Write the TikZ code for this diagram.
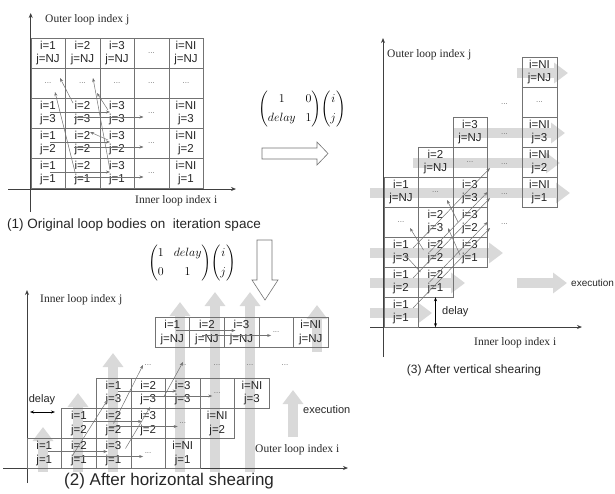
\documentclass[tikz,border=0pt]{standalone}
\usepackage{amsmath}
\usepackage{fontspec}
\setmainfont{Liberation Sans}
\newfontfamily\serifaxis{Liberation Serif}
\usetikzlibrary{arrows.meta}

\begin{document}
\begin{tikzpicture}[x=1pt, y=-1pt, >=Stealth,
    cell/.style={draw=black!55, minimum width=34.5pt, minimum height=30pt, inner sep=0pt, align=center, text=black!85, font=\fontsize{11.5}{13.5}\selectfont},
    dotcell/.style={cell, text=black!55, font=\fontsize{8}{9}\selectfont},
    dots/.style={inner sep=0pt, text=black!55, font=\fontsize{8}{9}\selectfont},
    axis/.style={-{Stealth[length=5pt, width=4pt]}, draw=black!75, line width=0.9pt},
    axislabel/.style={anchor=west, inner sep=0pt, text=black!85, font=\serifaxis\fontsize{11.5}{13}\selectfont},
    lab/.style={inner sep=0pt, text=black!85, font=\fontsize{11}{13}\selectfont},
    caption/.style={inner sep=0pt, text=black!85},
    flow/.style={-{Stealth[length=4pt, width=3pt]}, draw=black!55, line width=0.5pt},
    exec/.style={draw=black!15, line width=10pt, -{Triangle[length=14pt, width=20pt]}},
    hollow/.style={draw=black!55, fill=white, line width=0.6pt},
    delayarrow/.style={{Stealth[length=4pt, width=3pt]}-{Stealth[length=4pt, width=3pt]}, line width=0.7pt}
  ]
  \useasboundingbox (0,0) rectangle (615,493);

  % (1) original iteration space
  \draw[axis] (8,189) -- (236,189);
  \draw[axis] (30.7,212) -- (30.7,13);
  \foreach \ii/\x in {1/48,2/82.5,3/117,NI/186}
    \foreach \jj/\y in {NJ/53,3/113,2/143,1/173}
      \node[cell] (o-\ii-\jj) at (\x,\y) {i=\ii\\j=\jj};
  \foreach \ii/\x in {1/48,2/82.5,3/117,d/151.5,NI/186}
    \node[dotcell] (o-\ii-d) at (\x,83) {...};
  \foreach \jj/\y in {NJ/53,3/113,2/143,1/173}
    \node[dotcell] (o-d-\jj) at (151.5,\y) {...};
  \foreach \jj in {3,2,1} {
    \draw[flow] ([shift={(2,-1)}]o-1-\jj.center) -- ([shift={(-7,-1)}]o-3-\jj.center);
    \draw[flow] ([shift={(26,4)}]o-1-\jj.center) -- ([shift={(-8,4)}]o-d-\jj.center);
  }
  \draw[flow] ([shift={(-7,-3)}]o-3-1.center) -- ([shift={(10.5,-5)}]o-2-d.center);
  \draw[flow] ([shift={(-9.5,-10)}]o-2-3.center) -- ([shift={(12,-5)}]o-1-d.center);
  \draw[flow] ([shift={(-7.5,-1)}]o-2-1.center) -- ([shift={(7,9)}]o-1-d.center);
  \draw[flow] ([shift={(-9,-3)}]o-3-2.center) -- ([shift={(7.5,-11)}]o-2-2.center);
  \draw[flow] ([shift={(-9,-3)}]o-3-3.center) -- ([shift={(-20,10)}]o-3-d.center);
  \node[axislabel] (o-ylab) at (45,20) {Outer loop index j};
  \node[axislabel] (o-xlab) at (135,201) {Inner loop index i};
  \node[caption, font=\fontsize{13.5}{15}\selectfont] (o-cap) at (134,225) {(1) Original loop bodies on \ iteration space};

  % transformations
  \node[inner sep=0pt, font=\fontsize{13}{15}\selectfont] (m-vert) at (302,109)
    {$\begin{pmatrix}1&0\\[4pt] delay&1\end{pmatrix}\!\begin{pmatrix}i\\[4pt] j\end{pmatrix}$};
  \draw[hollow] (262,148) -- (317,148) -- (317,142) -- (328,153.5) -- (317,165) -- (317,159) -- (262,159) -- cycle;

  % (3) vertical shearing
  \foreach \y/\a/\b in {73/517/568,133/453/565,163/413/560,193/370/570,253/370/503,283/370/465,313/370/432}
    \draw[exec] (\a,\y) -- (\b,\y);
  \draw[exec] (517,283) -- (567,283);
  \draw[axis] (370,327) -- (582,327);
  \draw[axis] (383,357) -- (383,38);
  \foreach \ii/\x/\b in {1/401/312,2/435.5/282,3/470/252,NI/539.5/192} {
    \foreach \jj/\k in {1/0,2/1,3/2,NJ/4}
      \node[cell] (v-\ii-\jj) at (\x,{\b-30*\k}) {i=\ii\\j=\jj};
    \node[dotcell] (v-\ii-d) at (\x,{\b-90}) {...};
  }
  \foreach \jj/\y in {1/224,2/194,3/164,d/134,NJ/104}
    \node[dots] (v-d-\jj) at (504.5,\y) {...};
  \foreach \jj in {1,2,3}
    \draw[flow] ([shift={(12,-4)}]v-1-\jj.center) -- ([shift={(-14.5,4)}]v-d-\jj.center);
  \draw[flow] ([shift={(-6,0)}]v-2-1.center) -- ([shift={(17.5,0)}]v-3-2.center);
  \draw[flow] ([shift={(-6,0)}]v-2-2.center) -- ([shift={(17.5,0)}]v-3-3.center);
  \draw[flow] ([shift={(-12,-2)}]v-2-2.center) -- ([shift={(9,6)}]v-1-d.center);
  \draw[flow] ([shift={(-15,-10)}]v-2-1.center) -- ([shift={(4,3)}]v-1-3.center);
  \draw[flow] ([shift={(-12,0)}]v-3-2.center) -- ([shift={(11.5,8)}]v-2-d.center);
  \draw[flow] ([shift={(-10,3)}]v-3-1.center) -- ([shift={(12.5,6)}]v-2-3.center);
  \draw[delayarrow] (v-2-1.south) -- (v-2-1.south |- v-1-1.south);
  \node[lab, anchor=west] (v-delay) at (442,312) {delay};
  \node[lab, anchor=west, font=\fontsize{10}{12}\selectfont] (v-exec) at (571,283) {execution};
  \node[axislabel] (v-ylab) at (387,55) {Outer loop index j};
  \node[axislabel] (v-xlab) at (474,343) {Inner loop index i};
  \node[caption, font=\fontsize{12}{14}\selectfont] (v-cap) at (474,370) {(3) After vertical shearing};

  % (2) horizontal shearing
  \foreach \x/\a/\b in {43/472/427,78/472/393,113/472/353,180/472/302,215/472/292,250/472/292,317/352/305}
    \draw[exec] (\x,\a) -- (\x,\b);
  \draw[exec] (293,437) -- (293,390);
  \node[inner sep=0pt, font=\fontsize{13}{15}\selectfont] (m-hor) at (192,263)
    {$\begin{pmatrix}1&delay\\[4pt] 0&1\end{pmatrix}\!\begin{pmatrix}i\\[4pt] j\end{pmatrix}$};
  \draw[hollow] (257,240) -- (257,280) -- (252,280) -- (265,300) -- (278,280) -- (272,280) -- (272,240) -- cycle;
  \draw[axis] (3,468) -- (348,468);
  \draw[axis] (27,483) -- (27,290);
  \foreach \jj/\y/\x in {1/453.5/44.3,2/423.5/78.9,3/393/113.5,NJ/332.5/172.3} {
    \foreach \ii/\k in {1/0,2/1,3/2,NI/4}
      \node[cell] (h-\ii-\jj) at ({\x+34.6*\k},\y) {i=\ii\\j=\jj};
    \node[dotcell] (h-d-\jj) at ({\x+34.6*3},\y) {...};
  }
  \foreach \ii/\x in {1/148,2/183,3/217,d/250,NI/285}
    \node[dots] (h-\ii-d) at (\x,365) {...};
  \foreach \jj in {1,2,3,NJ} {
    \draw[flow] ([shift={(4,-2)}]h-1-\jj.center) -- ([shift={(-6,-2)}]h-3-\jj.center);
    \draw[flow] ([shift={(30,3)}]h-1-\jj.center) -- ([shift={(-5,3)}]h-d-\jj.center);
  }
  \draw[flow] ([shift={(-7,3)}]h-2-1.center) -- ([shift={(-6,7)}]h-1-3.center);
  \draw[flow] (h-2-2.center) -- ([shift={(-5,0)}]h-1-d.center);
  \draw[flow] ([shift={(12,-5)}]h-3-1.center) -- ([shift={(2,14)}]h-2-3.center);
  \draw[flow] ([shift={(-19,4)}]h-3-3.center) -- ([shift={(0,-3)}]h-2-d.center);
  \coordinate (h-dl-a) at (30,412);
  \coordinate (h-dl-b) at (55,412);
  \draw[delayarrow] (h-dl-a) -- (h-dl-b);
  \node[lab] (h-delay) at (42,400) {delay};
  \node[lab, anchor=west] (h-exec) at (303,410) {execution};
  \node[axislabel] (h-ylab) at (40,300) {Inner loop index j};
  \node[axislabel] (h-xlab) at (255,450) {Outer loop index i};
  \node[caption, anchor=west, font=\fontsize{17}{19}\selectfont] (h-cap) at (64,481) {(2) After horizontal shearing};
\end{tikzpicture}
\end{document}
